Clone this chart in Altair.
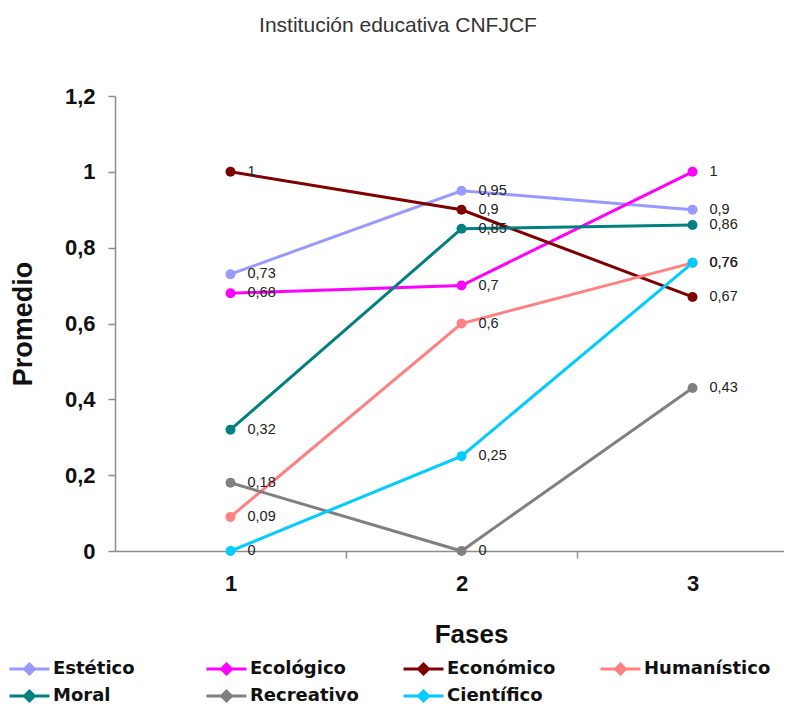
import altair as alt
import pandas as pd

# ---- data ----
series = ["Estético", "Ecológico", "Económico", "Humanístico", "Moral", "Recreativo", "Científico"]
colors = ["#9999FF", "#FF00FF", "#800000", "#FF8080", "#008080", "#808080", "#00CCFF"]
fases = [1, 2, 3]

estetico = [0.73, 0.95, 0.90]
ecologico = [0.68, 0.70, 1.00]
economico = [1.00, 0.90, 0.67]
humanistico = [0.09, 0.60, 0.76]
moral = [0.32, 0.85, 0.86]
recreativo = [0.18, 0.00, 0.43]
cientifico = [0.00, 0.25, 0.76]

y_ticks = [0, 0.2, 0.4, 0.6, 0.8, 1.0, 1.2]

values = [estetico, ecologico, economico, humanistico, moral, recreativo, cientifico]
rows = []
for s, vals in zip(series, values):
    for f, v in zip(fases, vals):
        rows.append({"serie": s, "fase": f, "valor": v,
                     "label": f"{v:g}".replace(".", ",")})
df = pd.DataFrame(rows)

FONT = "Liberation Sans, Arial, sans-serif"
LEGEND_FONT = "DejaVu Sans, Verdana, sans-serif"

x_enc = alt.X(
    "fase:Q",
    scale=alt.Scale(domain=[0.5, 3.396], nice=False, zero=False),
    axis=alt.Axis(
        values=fases, format="d", grid=False,
        tickOffset=115.5, labelOffset=-115.5, tickSize=7, tickColor="#8c8c8c",
        domainColor="#8c8c8c", domainWidth=1.5, tickWidth=1.5,
        labelFont=FONT, labelFontSize=22, labelFontWeight="bold", labelColor="#111",
        labelPadding=15,
        title="Fases", titleFont=FONT, titleFontSize=26, titleFontWeight="bold",
        titleColor="#111", titleX=356, titleY=83, titleBaseline="middle",
    ),
)
y_enc = alt.Y(
    "valor:Q",
    scale=alt.Scale(domain=[0, 1.2], nice=False),
    axis=alt.Axis(
        values=y_ticks, grid=False,
        labelExpr="replace(format(datum.value, '.1~f'), '.', ',')",
        tickSize=7, tickColor="#8c8c8c", tickWidth=1.5,
        domainColor="#8c8c8c", domainWidth=1.5,
        labelFont=FONT, labelFontSize=22, labelFontWeight="bold", labelColor="#111",
        labelPadding=13,
        title="Promedio", titleFont=FONT, titleFontSize=27, titleFontWeight="bold",
        titleColor="#111", titleX=-92, titleY=227.5, titleAngle=270,
        titleBaseline="middle",
    ),
)

color_enc = alt.Color(
    "serie:N",
    scale=alt.Scale(domain=series, range=colors),
    legend=alt.Legend(
        title=None, orient="none", legendX=-107, legendY=559,
        direction="horizontal",
        columns=4, gridAlign="all", columnPadding=20, rowPadding=2,
        symbolType="M-1,0L2.2,0M0.2,0L0.6,-0.4L1,0L0.6,0.4Z",
        symbolSize=625, symbolStrokeWidth=3,
        labelFont=LEGEND_FONT, labelFontSize=18, labelFontWeight="bold",
        labelColor="#111", labelOffset=17, labelLimit=300,
    ),
)

lines = alt.Chart(df).mark_line(
    strokeWidth=3,
    point=alt.OverlayMarkDef(filled=True, size=100),
).encode(x=x_enc, y=y_enc, color=color_enc)

texts = alt.Chart(df).mark_text(
    align="left", baseline="middle", dx=17, fontSize=14.5, font=FONT, color="#222"
).encode(x="fase:Q", y="valor:Q", text="label:N")

chart = alt.layer(lines, texts).properties(
    width=669,
    height=455,
    padding={"left": 107, "top": 88, "right": 0, "bottom": 154},
    autosize=alt.AutoSizeParams(type="none"),
    title=alt.TitleParams(
        "Institución educativa CNFJCF", font=FONT, fontSize=21, fontWeight="normal",
        color="#333", anchor="middle", dx=-51.5, baseline="bottom", offset=28,
    ),
).configure_view(stroke=None)

chart.save("out.html", embed_options={"renderer": "svg", "actions": False})
